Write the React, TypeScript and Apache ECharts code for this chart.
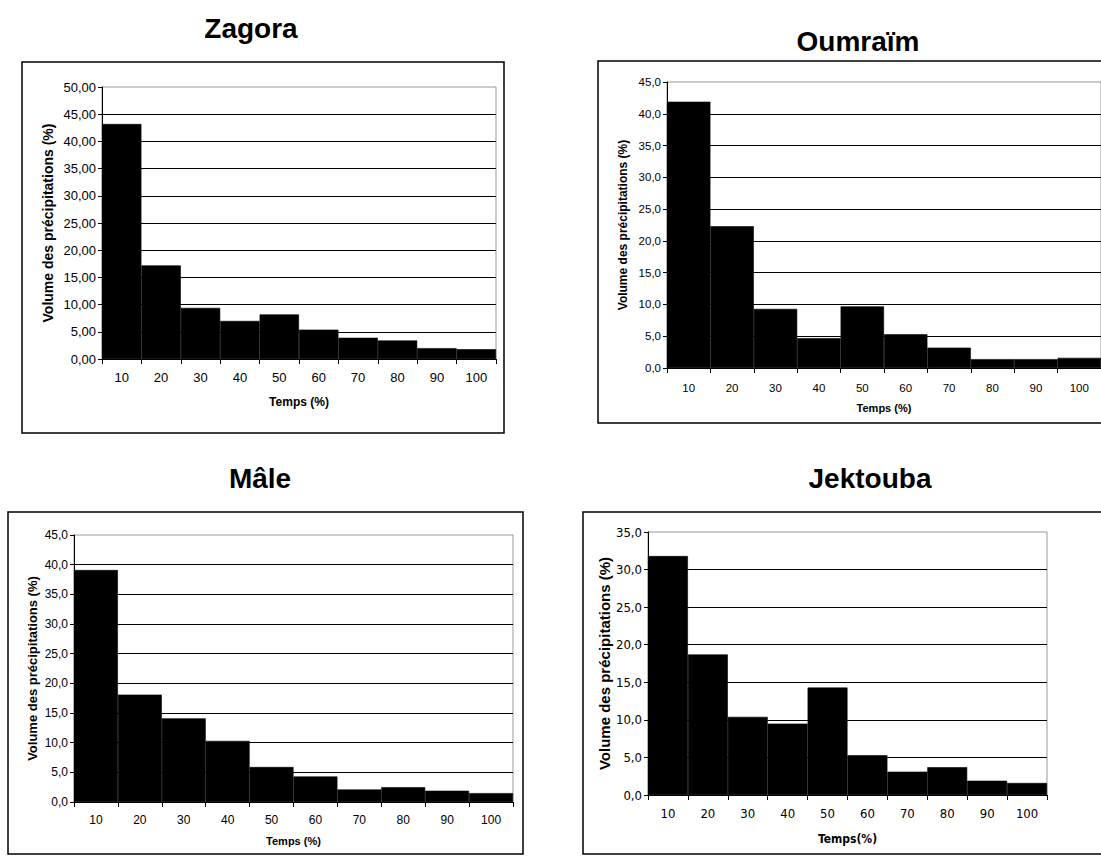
import React, { useEffect, useRef } from "react";
import * as echarts from "echarts";

const categories = ["10", "20", "30", "40", "50", "60", "70", "80", "90", "100"];
const zagora = [43.2, 17.2, 9.4, 7.0, 8.2, 5.4, 3.9, 3.4, 2.0, 1.8];
const oumraim = [41.9, 22.3, 9.3, 4.7, 9.7, 5.3, 3.2, 1.4, 1.4, 1.6];
const male = [39.1, 18.1, 14.1, 10.3, 5.9, 4.3, 2.1, 2.5, 1.9, 1.5];
const jektouba = [31.8, 18.7, 10.4, 9.5, 14.3, 5.3, 3.1, 3.7, 1.9, 1.6];
const titles = ["Zagora", "Oumraïm", "Mâle", "Jektouba"];
const yMax = [50, 45, 45, 35];
const yDecimals = [2, 1, 1, 1];
const yTitle = "Volume des précipitations (%)";
const xTitles = ["Temps (%)", "Temps (%)", "Temps (%)", "Temps(%)"];

const ARIAL = "'Liberation Sans', Arial, sans-serif";
const NARROW = "'Liberation Sans Narrow', 'Arial Narrow', 'DejaVu Sans Condensed', 'Liberation Sans', sans-serif";

export default function App() {
  const ref = useRef<HTMLDivElement>(null);
  useEffect(() => {
    if (!ref.current) return;
    const chart = echarts.init(ref.current, undefined, { renderer: "svg" });
    const seriesData = [zagora, oumraim, male, jektouba];
    const grids = [
      { left: 102, top: 87, width: 394, height: 272 },
      { left: 667, top: 82, width: 438, height: 286 },
      { left: 74, top: 535, width: 439, height: 267 },
      { left: 648, top: 532, width: 399, height: 263 },
    ];
    const panel = [
      { x: 22, y: 62, w: 482, h: 371 },
      { x: 598, y: 61, w: 530, h: 362 },
      { x: 8, y: 512, w: 515, h: 342 },
      { x: 583, y: 512, w: 540, h: 342 },
    ];
    const titlePos = [
      [251, 28],
      [858, 41],
      [260, 478],
      [870, 478],
    ];
    const tickFont = [13, 11.5, 12, 13];
    const tickFamily = [ARIAL, ARIAL, ARIAL, NARROW];
    const yNameFont = [14, 12, 13, 15];
    const yNameGap = [54, 44, 42, 40];
    const xNameFont = [12, 11, 11, 12];
    const xNameGap = [43, 40, 39, 44];
    const xLabelMargin = [12, 14, 12, 12];

    const option: any = {
      animation: false,
      backgroundColor: "#fff",
      grid: grids.map((g) => ({
        ...g,
        show: true,
        borderColor: "#999",
        borderWidth: 1,
        backgroundColor: "transparent",
      })),
      xAxis: grids.map((_, i) => ({
        type: "category",
        gridIndex: i,
        data: categories,
        boundaryGap: true,
        axisLine: { show: true, lineStyle: { color: "#000", width: 1 } },
        axisTick: { show: true, alignWithLabel: false, length: 5, lineStyle: { color: "#000" } },
        axisLabel: {
          interval: 0,
          color: "#000",
          fontSize: tickFont[i],
          fontFamily: tickFamily[i],
          margin: xLabelMargin[i],
        },
        name: xTitles[i],
        nameLocation: "middle",
        nameGap: xNameGap[i],
        nameTextStyle: {
          color: "#000",
          fontWeight: "bold",
          fontSize: xNameFont[i],
          fontFamily: tickFamily[i],
          verticalAlign: "middle",
        },
        splitLine: { show: false },
      })),
      yAxis: grids.map((_, i) => ({
        type: "value",
        gridIndex: i,
        min: 0,
        max: yMax[i],
        interval: 5,
        axisLine: { show: true, lineStyle: { color: "#000", width: 1 } },
        axisTick: { show: true, length: 4, lineStyle: { color: "#000" } },
        axisLabel: {
          color: "#000",
          fontSize: tickFont[i],
          fontFamily: tickFamily[i],
          margin: 6,
          formatter: (v: number) => v.toFixed(yDecimals[i]).replace(".", ","),
        },
        splitLine: {
          show: true,
          showMaxLine: false,
          lineStyle: { color: "#000", width: 1 },
        },
        name: yTitle,
        nameLocation: "middle",
        nameRotate: 90,
        nameGap: yNameGap[i],
        nameTextStyle: {
          color: "#000",
          fontWeight: "bold",
          fontSize: yNameFont[i],
          fontFamily: ARIAL,
          verticalAlign: "middle",
        },
      })),
      series: seriesData.map((d, i) => ({
        type: "bar",
        xAxisIndex: i,
        yAxisIndex: i,
        data: d,
        barCategoryGap: "0%",
        itemStyle: { color: "#000", borderColor: "#000", borderWidth: 0.6 },
        z: 3,
      })),
      graphic: [
        ...panel.map((p) => ({
          type: "rect",
          shape: { x: p.x, y: p.y, width: p.w, height: p.h },
          style: { fill: "none", stroke: "#000", lineWidth: 1.5 },
          silent: true,
          z: 10,
        })),
        ...titles.map((t, i) => ({
          type: "text",
          x: titlePos[i][0],
          y: titlePos[i][1],
          style: {
            text: t,
            fontSize: 28,
            fontWeight: "bold",
            fontFamily: ARIAL,
            fill: "#000",
            align: "center",
            verticalAlign: "middle",
          },
          z: 10,
        })),
      ],
    };
    chart.setOption(option);
    return () => chart.dispose();
  }, []);
  return (
    <div
      ref={ref}
      style={{ position: "fixed", left: 0, top: 0, width: 1101, height: 868, background: "#fff" }}
    />
  );
}
